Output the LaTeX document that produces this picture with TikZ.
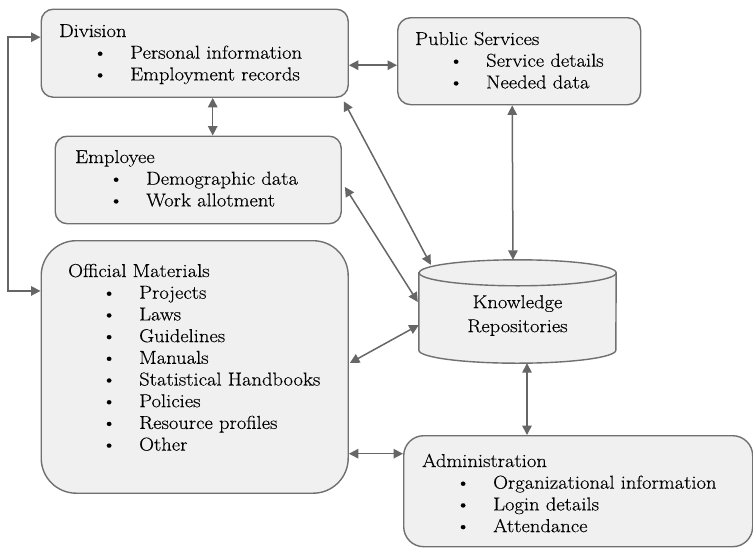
\documentclass[tikz,border=0pt]{standalone}
\usepackage{fontspec}
\setmainfont{Latin Modern Roman}[FakeStretch=1.1, FakeBold=0.3]
\usetikzlibrary{arrows.meta,calc}
\definecolor{boxfill}{HTML}{F0F0F0}
\definecolor{boxline}{HTML}{707070}
\definecolor{arrowc}{HTML}{666666}
\newcommand\bitem[1]{\hbox{\hspace*{33.5pt}\makebox[37.5pt][l]{\textbullet}#1}}
\newcommand\blist[2]{\vtop{\hbox{#1}#2}}
\begin{document}
\begin{tikzpicture}[x=1pt,y=-1pt,
  box/.style={draw=boxline, fill=boxfill, line width=1.4pt, inner sep=0pt, anchor=north west},
  txt/.style={anchor=base west, inner sep=0pt, font=\fontsize{18.7}{21.7}\selectfont},
  conn/.style={draw=arrowc, line width=1.5pt, {Triangle[length=9.5pt,width=9.5pt]}-{Triangle[length=9.5pt,width=9.5pt]}}]
\useasboundingbox (0,0) rectangle (753,547);

% boxes
\node[box, rounded corners=12pt, minimum width=307pt, minimum height=88pt] (div) at (40.5,8.5) {};
\node[box, rounded corners=13pt, minimum width=243pt, minimum height=87pt] (ps) at (397,17) {};
\node[box, rounded corners=12pt, minimum width=286pt, minimum height=87.5pt] (emp) at (54.5,135.5) {};
\node[box, rounded corners=35pt, minimum width=307pt, minimum height=252.5pt] (om) at (40.5,240) {};
\node[box, rounded corners=20pt, minimum width=349pt, minimum height=111pt] (adm) at (403,435) {};

% cylinder
\node[inner sep=0pt, minimum width=197pt, minimum height=103pt] (kr) at (517.5,311.5) {};
\draw[draw=boxline, fill=boxfill, line width=1.4pt]
  ($(kr.north west)+(0,13)$) -- ($(kr.south west)+(0,-13)$)
  arc[start angle=180, end angle=360, x radius=98.5pt, y radius=13pt]
  -- ($(kr.north east)+(0,13)$)
  arc[start angle=0, end angle=180, x radius=98.5pt, y radius=13pt] -- cycle;
\draw[draw=boxline, line width=1.4pt] ($(kr.north east)+(0,13)$)
  arc[start angle=0, end angle=-180, x radius=98.5pt, y radius=13pt];
\node[inner sep=0pt, align=center, font=\fontsize{18.7}{24}\selectfont] (krt) at (517.5,315.5) {Knowledge\\Repositories};

% texts
\node[txt] (divt) at (59,37) {\blist{Division}{\bitem{Personal information}\bitem{Employment records}}};
\node[txt] (pst) at (415,45) {\blist{Public Services}{\bitem{Service details}\bitem{Needed data}}};
\node[txt] (empt) at (75,163) {\blist{Employee}{\bitem{Demographic data}\bitem{Work allotment}}};
\node[txt] (omt) at (68,277) {\blist{Official Materials}{\bitem{Projects}\bitem{Laws}\bitem{Guidelines}\bitem{Manuals}\bitem{Statistical Handbooks}\bitem{Policies}\bitem{Resource profiles}\bitem{Other}}};
\node[txt] (admt) at (422,467) {\blist{Administration}{\bitem{Organizational information}\bitem{Login details}\bitem{Attendance}}};

% connectors
\coordinate (loopx) at (8,0);
\draw[conn] ([yshift=16pt]div.west) -- ([yshift=16pt]div.west -| loopx) -- ([yshift=76pt]om.west -| loopx) -- ([yshift=76pt]om.west);
\draw[conn] ([yshift=-12pt]div.east) -- ([yshift=-12pt]div.east -| ps.west);
\draw[conn] ([xshift=18pt]div.south) -- ([xshift=18pt]div.south |- emp.north);
\draw[conn] ([shift={(-5,3.5)}]div.south east) -- ([shift={(12,5)}]kr.north west);
\draw[conn] ([shift={(3,7)}]emp.east) -- ([shift={(-1,-9.5)}]kr.west);
\draw[conn] ([shift={(1,-4)}]om.east) -- ([shift={(0,13.5)}]kr.west);
\draw[conn] ([xshift=-7pt]ps.south) -- ([xshift=-4.5pt]kr.north);
\draw[conn] ([xshift=9.5pt]kr.south) -- ([xshift=9.5pt]kr.south |- adm.north);
\draw[conn] ([yshift=37.5pt]adm.west -| om.east) -- ([yshift=37.5pt]adm.west);
\end{tikzpicture}
\end{document}
